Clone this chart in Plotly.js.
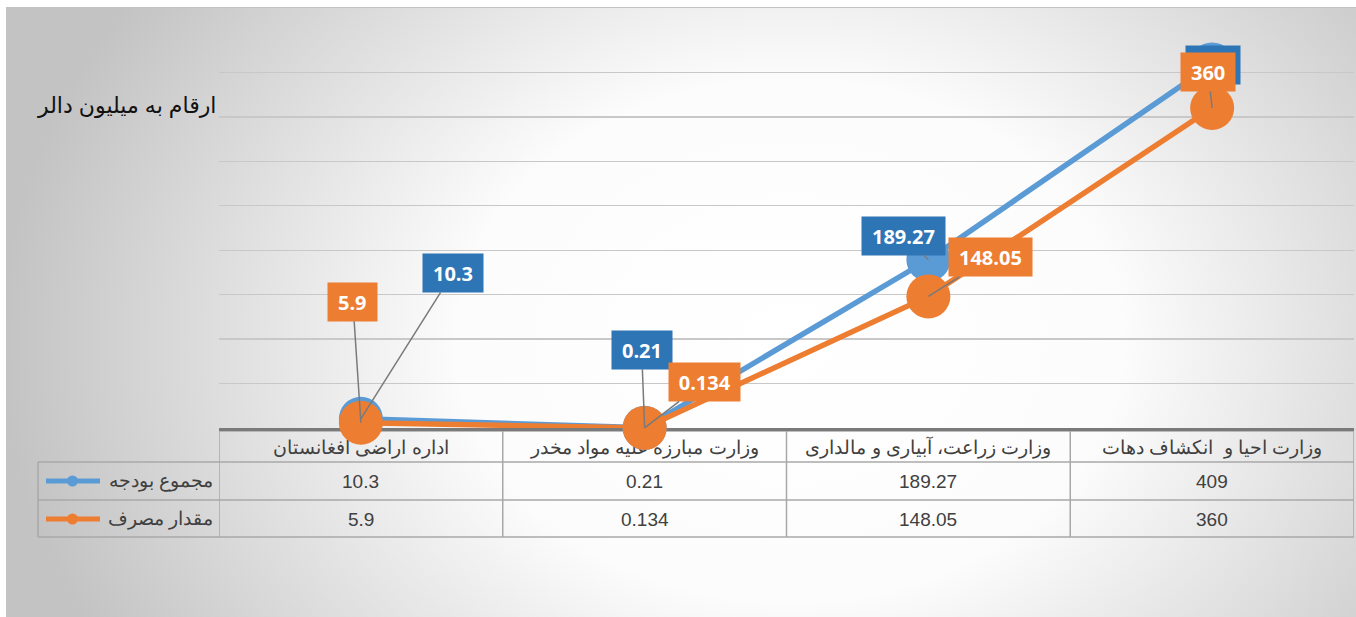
<!DOCTYPE html>
<html><head><meta charset="utf-8">
<script src="https://cdn.plot.ly/plotly-3.0.1.min.js"></script>
<style>
html,body{margin:0;padding:0;background:#fff;overflow:hidden;}
#bg{position:absolute;left:6px;top:7px;width:1350px;height:610px;border-top:1px solid #c2c2c2;
background:radial-gradient(790px 620px at 784px 333px,#ffffff 0%,#fcfcfc 42%,#c3c3c3 100%);}
#chart{position:absolute;left:0;top:0;width:1356px;height:617px;}
</style></head><body>
<div id="bg"></div><div id="chart"></div>
<script>
// ---- data ----
const categories = ['اداره اراضی افغانستان', 'وزارت مبارزه علیه مواد مخدر', 'وزارت زراعت، آبیاری و مالداری', 'وزارت احیا و  انکشاف دهات'];
const budgetName = 'مجموع بودجه';
const spentName = 'مقدار مصرف';
const budgetValues = [10.3, 0.21, 189.27, 409];
const spentValues = [5.9, 0.134, 148.05, 360];
const yTitle = 'ارقام به میلیون دالر';

// ---- label placement (pixel offsets from point to label centre) ----
const budgetLabelOffsets = [[92, -146], [-3, -78], [-25, -24], [1, 1]];
const spentLabelOffsets = [[-8, -121], [60, -46], [62, -39], [-4, -36]];

const blue = '#5B9BD5', blueDark = '#2E75B6', orange = '#ED7D31';
const W = 1356, H = 617, L = 219, R = 2, T = 28, B = 189;
const plotW = W - L - R, plotH = H - T - B;
const px2x = p => (p - L) / plotW;
const py2y = p => (H - B - p) / plotH;

const labelFont = 'Open Sans, Liberation Sans, sans-serif';
const ctx = document.createElement('canvas').getContext('2d');
ctx.font = 'bold 20px "Open Sans", "Liberation Sans", sans-serif';
const tw = s => ctx.measureText(s).width;

const annotations = [];
function dataLabels(vals, offs, color) {
  vals.forEach((v, i) => {
    const s = String(v);
    annotations.push({
      x: categories[i], y: v, xref: 'x', yref: 'y', text: s,
      showarrow: true, arrowhead: 0, arrowwidth: 1.5, arrowcolor: '#7a7a7a',
      ax: offs[i][0], ay: offs[i][1], standoff: 0, startstandoff: 0,
      bgcolor: color, borderpad: 0, width: tw(s) + 20, height: 38,
      font: {family: labelFont, size: 20, color: '#ffffff', weight: 700}
    });
  });
}
dataLabels(budgetValues, budgetLabelOffsets, blueDark);
dataLabels(spentValues, spentLabelOffsets, orange);

// y-axis title
annotations.push({xref: 'paper', yref: 'paper', x: px2x(218), y: py2y(105), xanchor: 'right', yanchor: 'middle',
  showarrow: false, text: yTitle, font: {family: 'Liberation Sans, DejaVu Sans, sans-serif', size: 22, color: '#111'}});

// data table
const tableFont = {family: 'Liberation Sans Narrow, Liberation Sans, sans-serif', size: 19, color: '#404040'};
const rowY = [481, 519];
[[budgetName, budgetValues], [spentName, spentValues]].forEach(([name, vals], r) => {
  annotations.push({xref: 'paper', yref: 'paper', x: px2x(215), y: py2y(rowY[r]), xanchor: 'right', yanchor: 'middle',
    showarrow: false, text: name, font: tableFont});
  vals.forEach((v, i) => annotations.push({xref: 'x', yref: 'paper', x: i, y: py2y(rowY[r]), xanchor: 'center',
    yanchor: 'middle', showarrow: false, text: String(v), font: tableFont}));
});

const shapes = [];
const lineStyle = {color: '#a8a8a8', width: 1.5};
[431, 462, 500, 537].forEach((yy, k) => {
  shapes.push({type: 'line', layer: 'below', xref: 'paper', yref: 'paper', x0: k === 0 ? 0 : px2x(38), x1: 1,
    y0: py2y(yy), y1: py2y(yy), line: lineStyle});
});
for (let i = 0; i <= categories.length; i++) {
  shapes.push({type: 'line', layer: 'below', xref: 'x', yref: 'paper', x0: i - 0.5, x1: i - 0.5,
    y0: py2y(431), y1: py2y(537), line: lineStyle});
}
shapes.push({type: 'line', layer: 'below', xref: 'paper', yref: 'paper', x0: px2x(38), x1: px2x(38),
  y0: py2y(462), y1: py2y(537), line: lineStyle});
// legend keys
[[blue, rowY[0]], [orange, rowY[1]]].forEach(([c, yy]) => {
  shapes.push({type: 'line', layer: 'above', xref: 'paper', yref: 'paper', x0: px2x(46), x1: px2x(100),
    y0: py2y(yy), y1: py2y(yy), line: {color: c, width: 5}});
  shapes.push({type: 'circle', layer: 'above', xref: 'paper', yref: 'paper', x0: px2x(67), x1: px2x(78),
    y0: py2y(yy - 5.5), y1: py2y(yy + 5.5), fillcolor: c, line: {width: 0}});
});

const traces = [
  {x: categories, y: budgetValues, name: budgetName, type: 'scatter', mode: 'lines+markers',
   line: {color: blue, width: 5.5}, marker: {size: 44, color: blue}, cliponaxis: false, hoverinfo: 'skip'},
  {x: categories, y: spentValues, name: spentName, type: 'scatter', mode: 'lines+markers',
   line: {color: orange, width: 5.5}, marker: {size: 44, color: orange}, cliponaxis: false, hoverinfo: 'skip'}
];

const layout = {
  width: W, height: H, margin: {l: L, r: R, t: T, b: B},
  paper_bgcolor: 'rgba(0,0,0,0)', plot_bgcolor: 'rgba(0,0,0,0)', showlegend: false,
  xaxis: {type: 'category', range: [-0.5, categories.length - 0.5], showgrid: false, zeroline: false,
    showline: true, linecolor: '#7a7a7a', linewidth: 2.5, ticks: '', layer: 'below traces',
    tickfont: tableFont, ticklabelstandoff: 1, fixedrange: true},
  yaxis: {range: [0, 450], dtick: 50, showticklabels: false, gridcolor: '#c8c8c8', gridwidth: 1.3,
    zeroline: false, showline: false, ticks: '', fixedrange: true},
  annotations: annotations, shapes: shapes
};
Plotly.newPlot('chart', traces, layout, {displayModeBar: false, staticPlot: true});
</script>
</body></html>
